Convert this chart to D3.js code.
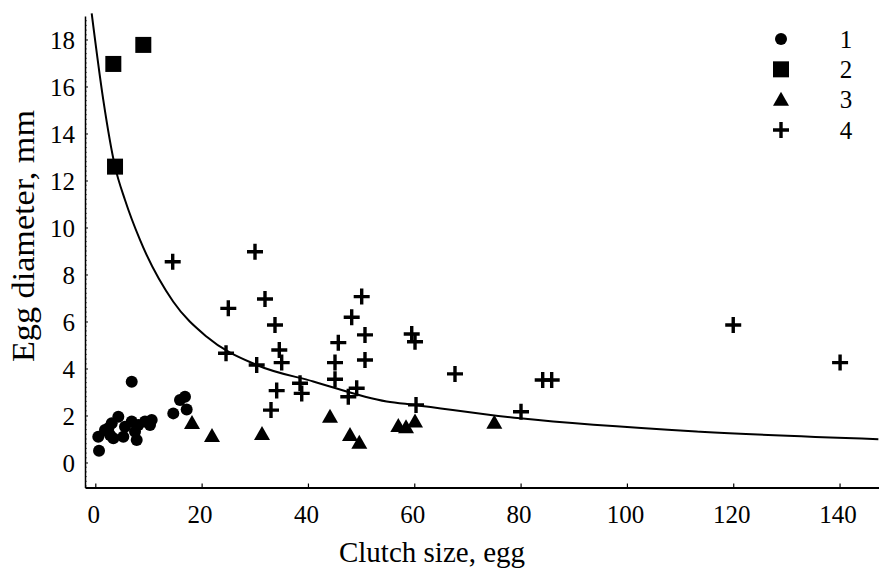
<!DOCTYPE html>
<html><head><meta charset="utf-8">
<script src="https://cdn.jsdelivr.net/npm/d3@7"></script>
<style>html,body{margin:0;padding:0;background:#fff;} svg{display:block;} text{font-family:'Liberation Serif','Times New Roman',serif;}</style>
</head><body>
<svg id="chart" width="879" height="571"></svg>
<script>
// ---- data ----
const group1 = [ // circles
  [6.85,3.44],[0.70,0.50],[0.56,1.10],[1.82,1.38],[2.45,1.46],[3.09,1.67],[4.33,1.95],
  [3.39,1.03],[2.77,1.17],[5.59,1.52],[6.85,1.74],[8.09,1.60],[9.35,1.74],[10.61,1.81],
  [7.79,0.96],[5.27,1.10],[10.29,1.60],[7.47,1.31],[14.67,2.09],[15.93,2.66],[16.87,2.80],[17.19,2.26]
];
const group2 = [ // squares
  [3.39,16.96],[9.03,17.77],[3.71,12.59]
];
const group3 = [ // triangles
  [18.19,1.68],[21.95,1.13],[31.36,1.21],[44.15,1.95],[47.91,1.17],[49.66,0.84],
  [57.0,1.55],[58.45,1.50],[60.14,1.74],[75.06,1.69]
];
const group4 = [ // crosses
  [14.56,8.54],[30.04,8.97],[25.02,6.56],[31.92,6.96],[33.80,5.85],[34.61,4.79],[35.06,4.25],
  [24.59,4.65],[30.36,4.15],[34.12,3.06],[33.05,2.23],[50.11,7.06],[48.23,6.18],[50.73,5.43],
  [45.71,5.10],[50.73,4.36],[45.09,4.25],[45.09,3.54],[49.17,3.16],[47.59,2.80],[38.51,3.37],
  [38.83,2.94],[59.52,5.47],[60.14,5.14],[60.33,2.45],[67.66,3.77],[84.16,3.51],[85.85,3.51],
  [80.08,2.16],[120.0,5.85],[140.1,4.25]
];
const curvePts = [
  [-0.68,19.11],[1.5,15.43],[3.71,12.59],[5.59,11.17],[8.41,9.47],[14.67,6.84],[20.96,5.35],
  [30.36,4.15],[41,3.45],[54.8,2.6],[60.1,2.45],[79.9,1.88],[113.8,1.31],[147.3,0.99]
];
const xTicks = [0,20,40,60,80,100,120,140];
const yTicks = [0,2,4,6,8,10,12,14,16,18];
const legendLabels = ["1","2","3","4"];
const legendTypes = ["circle","square","triangle","cross"];
const xTitle = "Clutch size, egg";
const yTitle = "Egg diameter, mm";

// ---- drawing ----
const svg = d3.select("#chart");
const font = "'Liberation Serif','Times New Roman',serif";
const x = d3.scaleLinear().domain([-1.938,147.42]).range([85,879]);
const y = d3.scaleLinear().domain([-1.064,19.0]).range([487.5,16]);

// axes
const gx = svg.append("g").attr("transform","translate(0,487.5)")
  .call(d3.axisBottom(x).tickValues(xTicks).tickSizeInner(-4).tickSizeOuter(0).tickPadding(12).tickFormat(d3.format("d")));
gx.attr("font-family",null).attr("font-size",null);
gx.select(".domain").attr("stroke-width",2.2);
gx.selectAll(".tick line").attr("stroke-width",1.2);
gx.selectAll(".tick text").style("font-family",font).style("font-size","25px").attr("fill","#000")
  .attr("dx","-2").attr("dy","0.92em");

const gy = svg.append("g").attr("transform","translate(85,0)")
  .call(d3.axisLeft(y).tickValues(yTicks).tickSizeInner(-3).tickSizeOuter(0).tickPadding(10).tickFormat(d3.format("d")));
gy.attr("font-family",null).attr("font-size",null);
gy.select(".domain").attr("stroke-width",1.5);
gy.selectAll(".tick text").style("font-family",font).style("font-size","25px").attr("fill","#000").attr("dy","0.36em");
// minor ticks
const minor = d3.range(-1.0,19.0,0.2).filter(v => Math.abs(v/2 - Math.round(v/2)) > 1e-6);
gy.selectAll(".minor").data(minor).join("line").attr("class","minor")
  .attr("x1",0).attr("x2",1.8).attr("y1",d=>y(d)).attr("y2",d=>y(d))
  .attr("stroke","#000").attr("stroke-width",0.7);

// titles
svg.append("text").attr("x",432).attr("y",562).attr("text-anchor","middle")
  .style("font-family",font).style("font-size","29px").text(xTitle);
svg.append("text").attr("transform","translate(34,236) rotate(-90)").attr("text-anchor","middle")
  .attr("textLength",252).attr("lengthAdjust","spacingAndGlyphs")
  .style("font-family",font).style("font-size","32px").text(yTitle);

// curve
svg.append("path").datum(curvePts)
  .attr("d", d3.line().x(d=>x(d[0])).y(d=>y(d[1])).curve(d3.curveMonotoneX))
  .attr("fill","none").attr("stroke","#000").attr("stroke-width",2);

// symbol painters
function drawSymbol(g, type, cx, cy){
  if(type==="circle"){
    g.append("circle").attr("cx",cx).attr("cy",cy).attr("r",6).attr("fill","#000");
  } else if(type==="square"){
    g.append("rect").attr("x",cx-8).attr("y",cy-8).attr("width",16).attr("height",16).attr("fill","#000");
  } else if(type==="triangle"){
    g.append("path").attr("d",`M${cx},${cy-8}L${cx+8},${cy+6}L${cx-8},${cy+6}Z`).attr("fill","#000");
  } else {
    g.append("path").attr("d",`M${cx-8},${cy}H${cx+8}M${cx},${cy-8}V${cy+8}`)
      .attr("stroke","#000").attr("stroke-width",3.4).attr("fill","none");
  }
}
const marks = svg.append("g");
[[group1,"circle"],[group2,"square"],[group3,"triangle"],[group4,"cross"]].forEach(([data,type])=>{
  data.forEach(d => drawSymbol(marks, type, x(d[0]), y(d[1])));
});

// legend
const legY = d3.scalePoint().domain(legendLabels).range([39,130]);
const leg = svg.append("g");
legendLabels.forEach((lab,i)=>{
  drawSymbol(leg, legendTypes[i], 781, legY(lab));
  leg.append("text").attr("x",846).attr("y",legY(lab)).attr("dy","0.35em").attr("text-anchor","middle")
    .style("font-family",font).style("font-size","25px").text(lab);
});
</script>
</body></html>
